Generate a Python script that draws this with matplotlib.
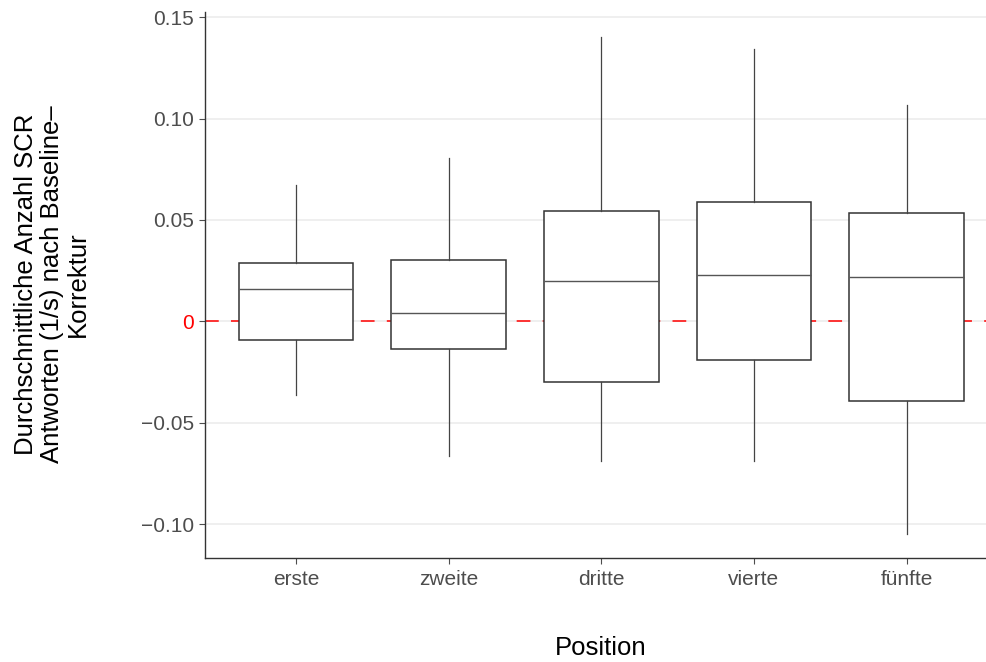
import numpy as np
import matplotlib
matplotlib.use("Agg")
import matplotlib.pyplot as plt

plt.rcParams['font.family'] = ['Liberation Sans', 'DejaVu Sans']

# box statistics
positions = ["erste", "zweite", "dritte", "vierte", "fünfte"]
whis_lo = [-0.0362, -0.0663, -0.0689, -0.0689, -0.1049]
q1 = [-0.0093, -0.0137, -0.0299, -0.0191, -0.0393]
med = [0.0159, 0.0042, 0.0199, 0.0228, 0.0219]
q3 = [0.0288, 0.0302, 0.0544, 0.0589, 0.0534]
whis_hi = [0.0672, 0.0804, 0.1403, 0.1343, 0.1066]

yticks = [-0.10, -0.05, 0, 0.05, 0.10, 0.15]
ytick_labels = ["\u22120.10", "\u22120.05", "0", "0.05", "0.10", "0.15"]

stats = []
for i, name in enumerate(positions):
    stats.append(dict(label=name, whislo=whis_lo[i], q1=q1[i], med=med[i],
                      q3=q3[i], whishi=whis_hi[i], fliers=[]))

fig = plt.figure(figsize=(9.87, 6.62), dpi=100)
ax = fig.add_axes([0.2072, 0.1571, 0.7928, 0.8243])

ax.set_xlim(0.4, 5.527)
ax.set_ylim(-0.11676, 0.15242)

# grid behind everything
for t in yticks:
    ax.axhline(t, color="#EBEBEB", lw=1.1, zorder=0)
ax.axhline(0, color="#FF0000", lw=1.1, ls=(0, (9, 8)), zorder=1)

ax.bxp(stats, positions=np.arange(1, 6), widths=0.75, showfliers=False,
       showcaps=False, patch_artist=True,
       boxprops=dict(facecolor="white", edgecolor="#333333", linewidth=1.1),
       whiskerprops=dict(color="#444444", linewidth=0.9),
       medianprops=dict(color="#555555", linewidth=1.0),
       zorder=2)

ax.set_xticks(np.arange(1, 6))
ax.set_xticklabels(positions)
ax.set_yticks(yticks)
ax.set_yticklabels(ytick_labels)

ax.tick_params(axis="both", labelsize=15, colors="#4D4D4D", length=4.5,
               width=0.8)
ax.tick_params(axis="y", pad=3)
ax.tick_params(axis="x", pad=4)
ax.get_yticklabels()[2].set_color("red")

for side in ["top", "right"]:
    ax.spines[side].set_visible(False)
for side in ["left", "bottom"]:
    ax.spines[side].set_color("#333333")
    ax.spines[side].set_linewidth(1.0)

fig.text(52 / 987, 1 - 284 / 662,
         "Durchschnittliche Anzahl SCR\nAntworten (1/s) nach Baseline\u2013\nKorrektur",
         rotation=90, ha="center", va="center", multialignment="center",
         fontsize=18.5, linespacing=1.1, color="black")
fig.text(601 / 987, 1 - 648 / 662, "Position", ha="center", va="center",
         fontsize=18.5, color="black")

fig.savefig("out.png", dpi=100, facecolor="white")
